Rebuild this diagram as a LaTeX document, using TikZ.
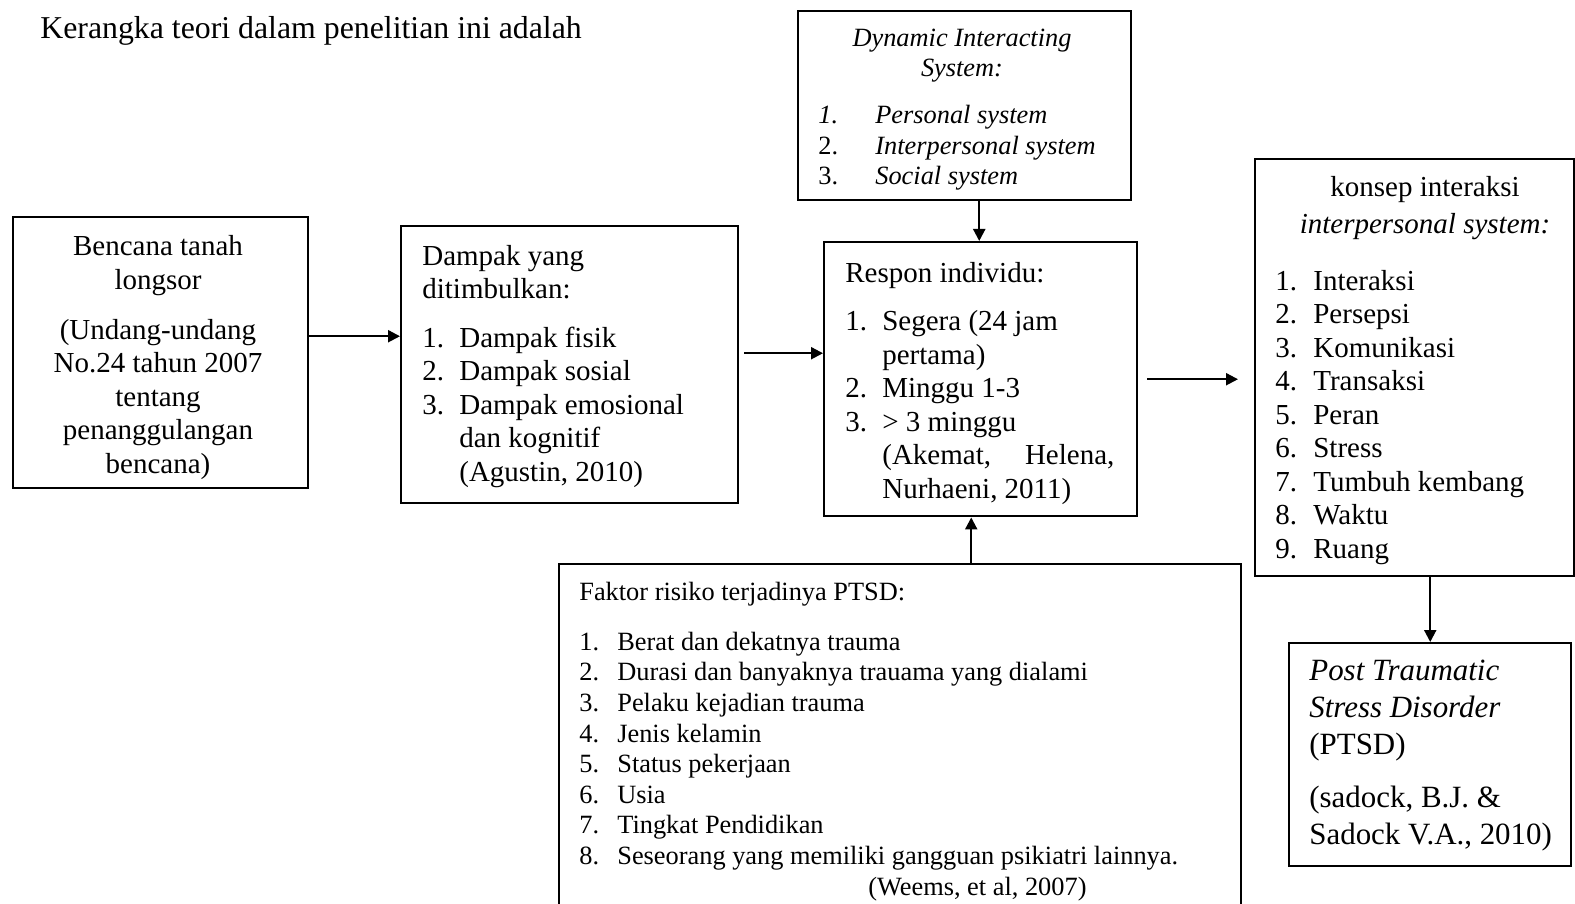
\documentclass[tikz,border=0pt]{standalone}
\usepackage{fontspec}
\setmainfont{Liberation Serif}
\usepackage{tikz}
\usetikzlibrary{arrows.meta,positioning}

\newcommand{\bodyfont}{\fontsize{16.5}{19.05}\selectfont}
\newcommand{\smallbody}{\fontsize{15}{17.4}\selectfont}
\newcommand{\bigbody}{\fontsize{17.6}{21}\selectfont}
\newcommand{\nr}[2][0.74cm]{\makebox[#1][l]{#2}}

\begin{document}
\begin{tikzpicture}[
      box/.style={draw, line width=1.4pt, inner sep=0pt, anchor=north west},
      txt/.style={inner sep=0pt, font=\bodyfont, align=left},
      arr/.style={-{Triangle[length=2.4mm, width=2.4mm]}, line width=1.2pt},
    ]
    \useasboundingbox (0,0) rectangle (31.5,-18.08);

    % Title
    \node[inner sep=0pt, anchor=base west, font=\fontsize{18.1}{21}\selectfont]
      (judul) at (0.80,-0.78) {Kerangka teori dalam penelitian ini adalah};

    % Boxes
    \node[box, minimum width=5.90cm, minimum height=5.42cm] (bencana) at (0.24,-4.32) {};
    \node[box, minimum width=6.74cm, minimum height=5.54cm] (dampak) at (8.00,-4.50) {};
    \node[box, minimum width=6.66cm, minimum height=3.78cm] (dynamic) at (15.94,-0.20) {};
    \node[box, minimum width=6.26cm, minimum height=5.48cm] (respon) at (16.46,-4.82) {};
    \node[box, minimum width=6.38cm, minimum height=8.34cm] (konsep) at (25.08,-3.16) {};
    \node[box, minimum width=5.64cm, minimum height=4.46cm] (ptsd) at (25.76,-12.84) {};
    \node[box, minimum width=13.64cm, minimum height=7.00cm] (faktor) at (11.16,-11.26) {};

    % Texts (base = last line)
    \node[txt, align=center, anchor=base] (bencanatxt) at (3.16,-9.46)
      {Bencana tanah\\ longsor\\[3.3mm] (Undang-undang\\ No.24 tahun 2007\\
       tentang\\ penanggulangan\\ bencana)};
    \node[txt, anchor=base west] (dampaktxt) at (8.44,-9.62)
      {Dampak yang\\ ditimbulkan:\\[3mm] \nr{1.}Dampak fisik\\ \nr{2.}Dampak sosial\\
       \nr{3.}Dampak emosional\\ \hspace*{0.74cm}dan kognitif\\
       \hspace*{0.74cm}(Agustin, 2010)};
    \node[txt, font=\smallbody\itshape, align=center, anchor=base] (dynhead) at (19.24,-1.54)
      {Dynamic Interacting\\ System:};
    \node[txt, font=\smallbody, anchor=base west] (dynlist) at (16.36,-3.70)
      {\nr[1.14cm]{\textit{1.}}\textit{Personal system}\\
       \nr[1.14cm]{2.}\textit{Interpersonal system}\\
       \nr[1.14cm]{3.}\textit{Social system}};
    \node[txt, anchor=base west] (respontxt) at (16.90,-9.96)
      {Respon individu:\\[3mm] \nr{1.}Segera (24 jam\\ \hspace*{0.74cm}pertama)\\
       \nr{2.}Minggu 1-3\\ \nr{3.}> 3 minggu\\
       \hspace*{0.74cm}\makebox[4.64cm][s]{(Akemat,\hfill Helena,}\\
       \hspace*{0.74cm}Nurhaeni, 2011)};
    \node[txt, align=center, anchor=base] (konsephead) at (28.50,-4.68)
      {konsep interaksi\\[0.9mm] \textit{interpersonal system:}};
    \node[txt, anchor=base west] (konseplist) at (25.50,-11.16)
      {\nr[0.76cm]{1.}Interaksi\\ \nr[0.76cm]{2.}Persepsi\\ \nr[0.76cm]{3.}Komunikasi\\
       \nr[0.76cm]{4.}Transaksi\\ \nr[0.76cm]{5.}Peran\\ \nr[0.76cm]{6.}Stress\\
       \nr[0.76cm]{7.}Tumbuh kembang\\ \nr[0.76cm]{8.}Waktu\\ \nr[0.76cm]{9.}Ruang};
    \node[txt, font=\bigbody, anchor=base west] (ptsdtxt) at (26.18,-16.88)
      {\textit{Post Traumatic}\\ \textit{Stress Disorder}\\ (PTSD)\\[3.2mm]
       (sadock, B.J. \&\\ Sadock V.A., 2010)};
    \node[txt, font=\smallbody, anchor=base west] (faktortxt) at (11.58,-17.90)
      {Faktor risiko terjadinya PTSD:\\[3.8mm]
       \nr[0.76cm]{1.}Berat dan dekatnya trauma\\
       \nr[0.76cm]{2.}Durasi dan banyaknya trauama yang dialami\\
       \nr[0.76cm]{3.}Pelaku kejadian trauma\\
       \nr[0.76cm]{4.}Jenis kelamin\\
       \nr[0.76cm]{5.}Status pekerjaan\\
       \nr[0.76cm]{6.}Usia\\
       \nr[0.76cm]{7.}Tingkat Pendidikan\\
       \nr[0.76cm]{8.}Seseorang yang memiliki gangguan psikiatri lainnya.\\
       \hspace*{5.78cm}(Weems, et al, 2007)};

    % Arrows
    \draw[arr] ([yshift=3.3mm]bencana.east) -- ([yshift=3.3mm]bencana.east -| dampak.west);
    \draw[arr] ([xshift=1mm, yshift=2.3mm]dampak.east) -- ([yshift=2.3mm]dampak.east -| respon.west);
    \draw[arr] ([xshift=2.9mm]dynamic.south) -- ([xshift=2.9mm]dynamic.south |- respon.north);
    \draw[arr] ([xshift=14.2mm]faktor.north) -- ([xshift=14.2mm]faktor.north |- respon.south);
    \draw[arr, shorten <=1.8mm, shorten >=3.2mm] (respon.east) -- (respon.east -| konsep.west);
    \draw[arr] (konsep.south -| ptsd.north) -- (ptsd.north);
  \end{tikzpicture}
\end{document}
